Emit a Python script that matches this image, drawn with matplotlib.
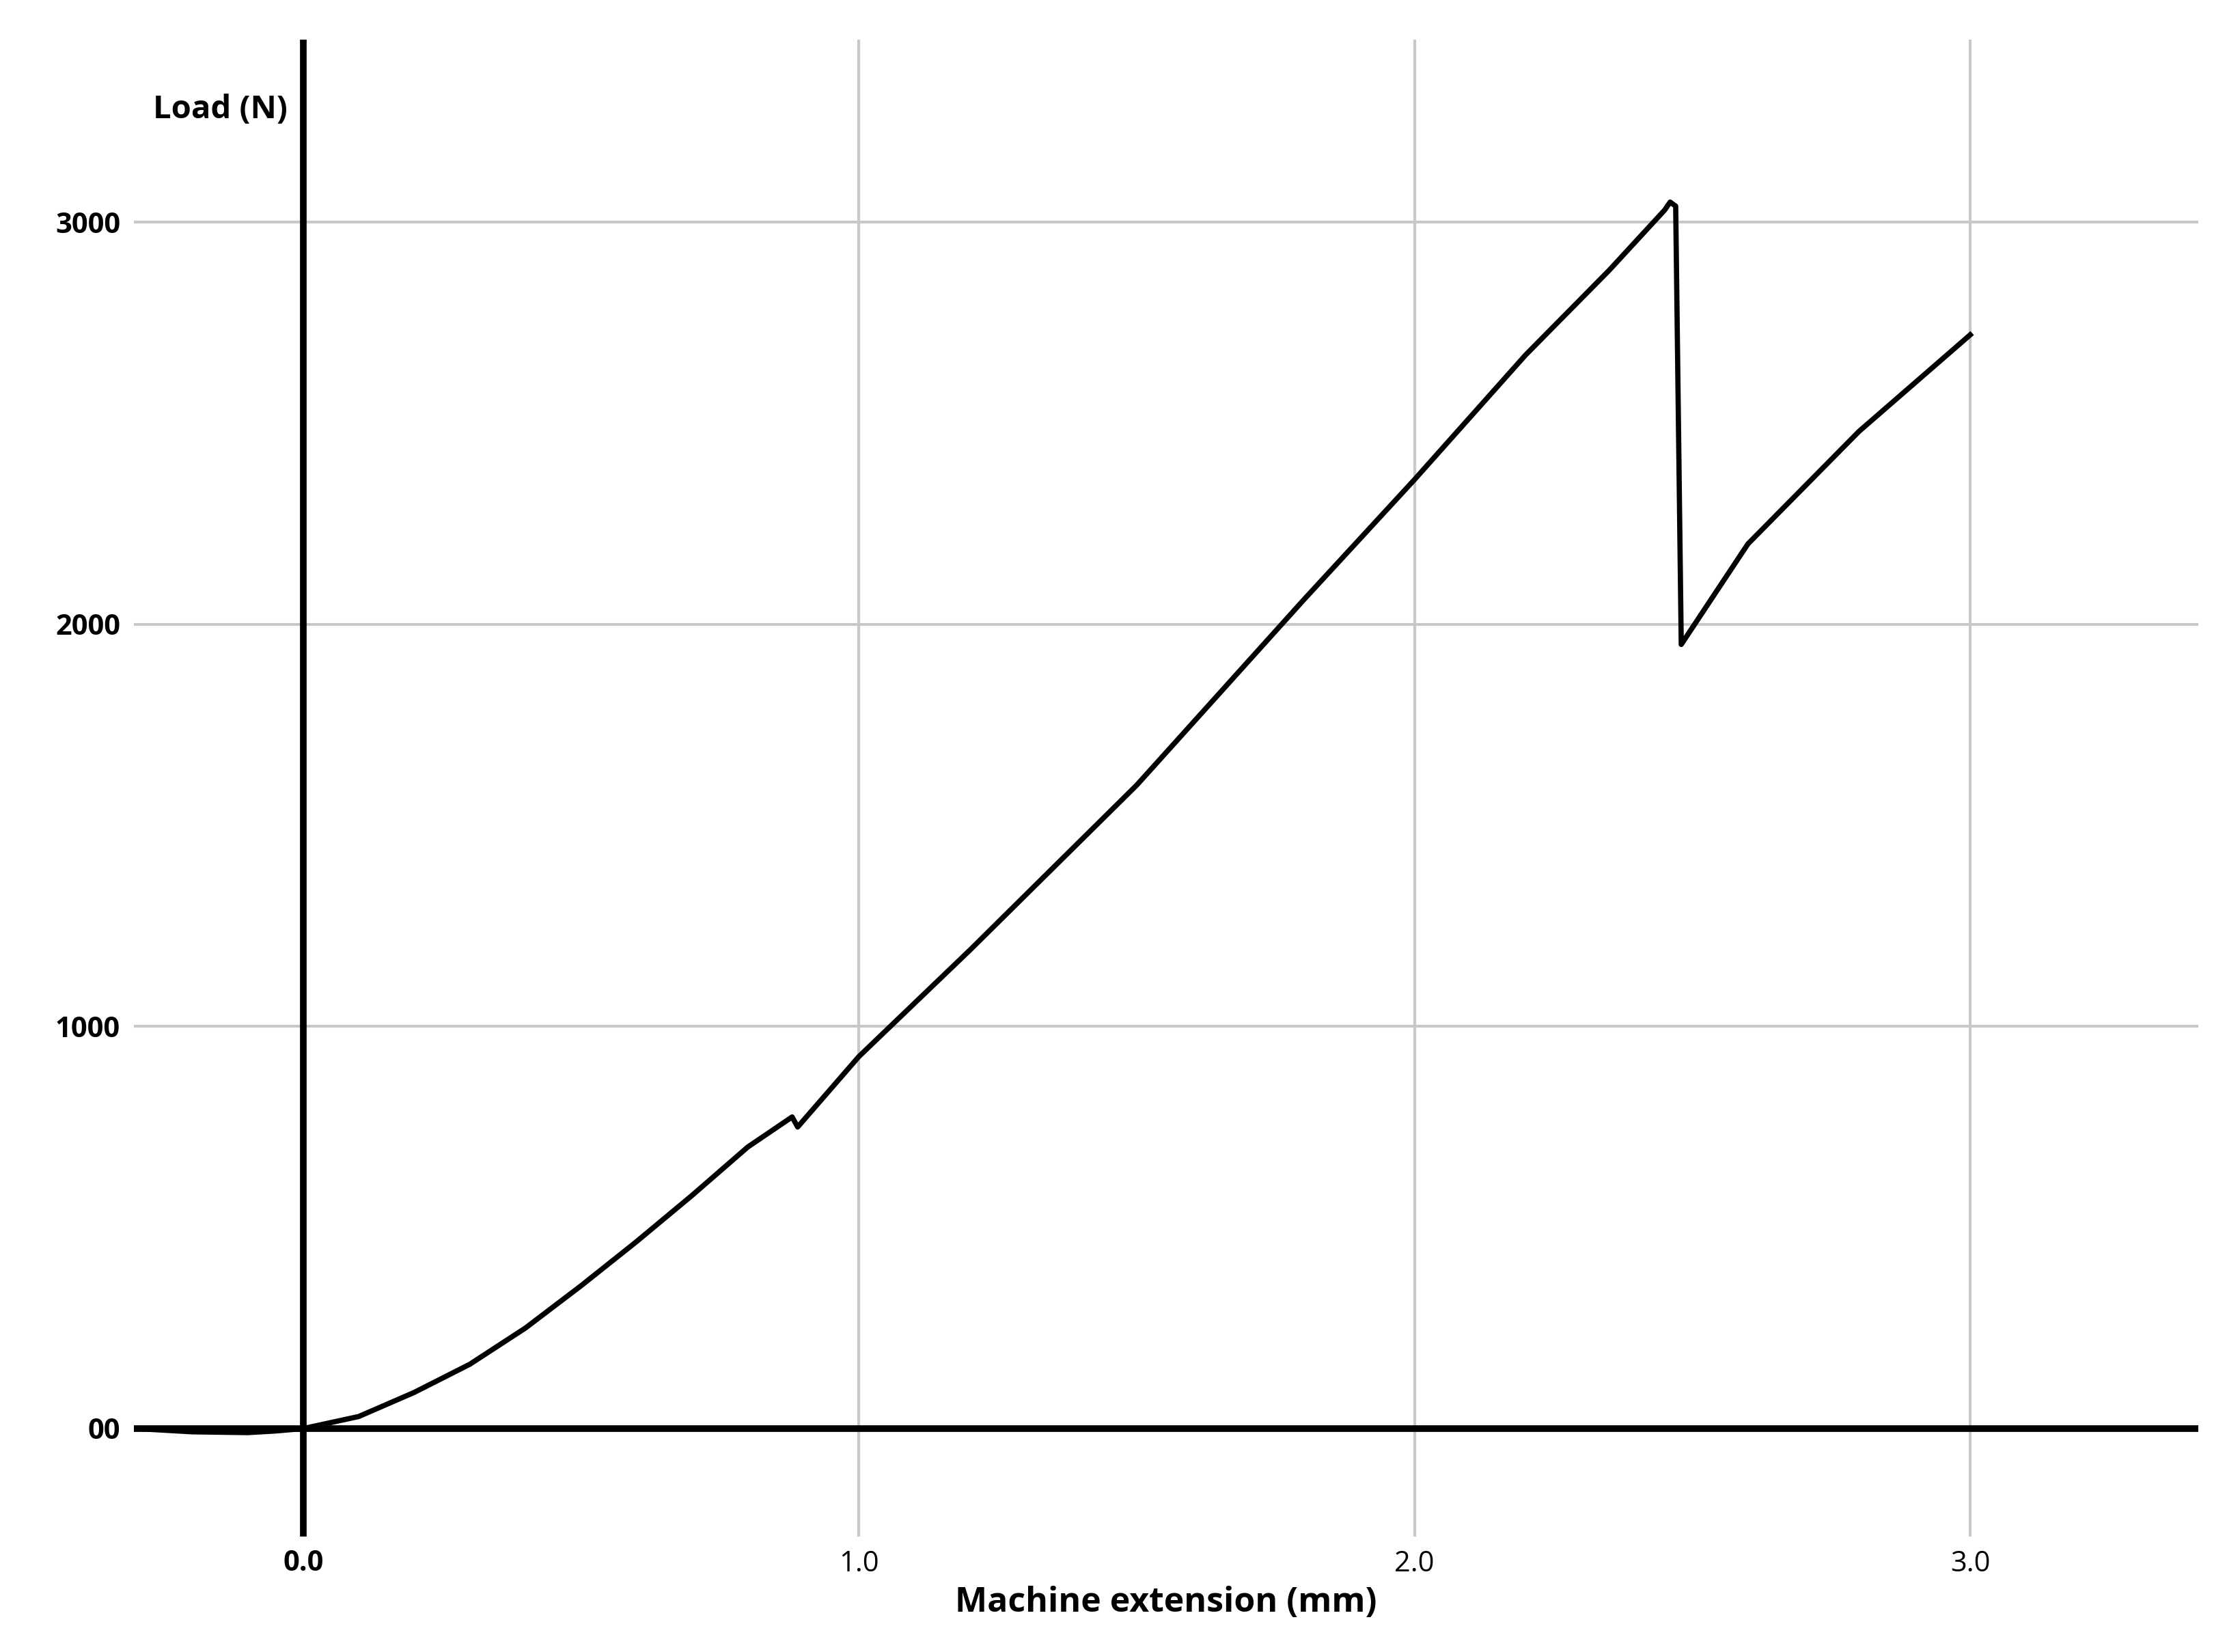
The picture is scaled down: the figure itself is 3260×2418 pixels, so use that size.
import matplotlib
matplotlib.use("Agg")
import matplotlib.pyplot as plt

ext = [-0.30, -0.20, -0.10, -0.05, 0.0, 0.1, 0.2, 0.3, 0.4, 0.5, 0.6, 0.7, 0.8, 0.88, 0.89, 1.0, 1.2, 1.5, 1.8, 2.0, 2.2, 2.35, 2.45, 2.46, 2.47, 2.48, 2.6, 2.8, 3.0]
load = [0, -8, -10, -6, 0, 30, 90, 160, 250, 355, 465, 580, 700, 775, 750, 925, 1190, 1600, 2060, 2360, 2670, 2880, 3030, 3050, 3040, 1950, 2200, 2480, 2720]

xticks = [0.0, 1.0, 2.0, 3.0]
xticklabels = ["0.0", "1.0", "2.0", "3.0"]
yticks = [0, 1000, 2000, 3000]
yticklabels = ["00", "1000", "2000", "3000"]

plt.rcParams['font.family'] = ['Open Sans', 'DejaVu Sans']
fig = plt.figure(figsize=(32.6, 24.18), dpi=100)
ax = fig.add_axes([0.06, 0.07, 0.927, 0.906])
ax.set_xlim(-0.305, 3.41)
ax.set_ylim(-268, 3454)
for s in ax.spines.values():
    s.set_visible(False)
ax.grid(True, color='#c8c8c8', linewidth=3)
ax.set_axisbelow(True)
ax.axvline(0, color='black', lw=7, zorder=3)
ax.axhline(0, color='black', lw=7, zorder=3)
ax.plot(ext, load, color='black', lw=5.5, zorder=4)
ax.set_xticks(xticks)
ax.set_xticklabels(xticklabels, fontsize=30)
ax.set_yticks(yticks)
ax.set_yticklabels(yticklabels, fontsize=30, fontweight='bold')
ax.get_xticklabels()[0].set_fontweight('bold')
ax.tick_params(length=0, pad=14)
ax.set_xlabel("Machine extension (mm)", fontsize=36, fontweight='bold', labelpad=8)
ax.text(-0.27, 3280, "Load (N)", fontsize=34, fontweight='bold', va='center')
fig.savefig("out.png", dpi=100)
